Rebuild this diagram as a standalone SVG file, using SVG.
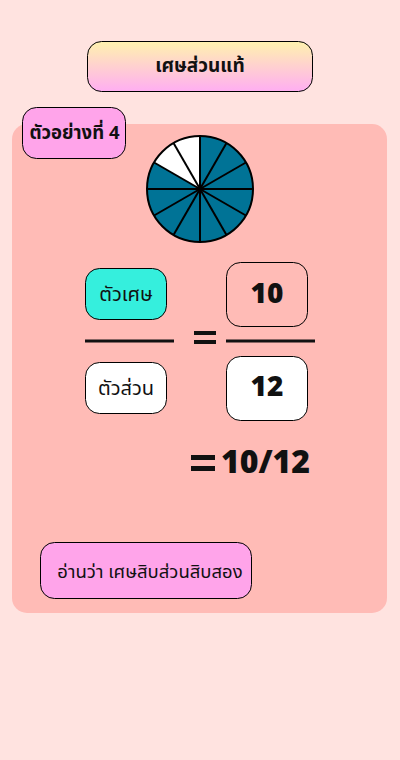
<svg xmlns="http://www.w3.org/2000/svg" width="400" height="760" viewBox="0 0 400 760">
<defs>
<linearGradient id="tg" x1="0" y1="0" x2="0" y2="1">
<stop offset="0" stop-color="#FFF2AE"/>
<stop offset="1" stop-color="#FFAEF2"/>
</linearGradient>
<style>
.box{stroke:#000;stroke-width:1}
.th{font-family:"Noto Sans","Noto Sans Thai","DejaVu Sans",sans-serif;fill:#111;text-anchor:middle}
.num{font-family:"Noto Sans","DejaVu Sans",sans-serif;font-weight:900;fill:#111;text-anchor:middle}
.bar{fill:#111}
.sl{stroke:#000;stroke-width:2}
</style>
</defs>
<rect width="400" height="760" fill="#FFE3E0"/>
<rect id="panel" x="12" y="124" width="375" height="489" rx="15" fill="#FFBBB6"/>
<g id="title">
<rect class="box" x="87.5" y="41.5" width="225" height="50" rx="14" fill="url(#tg)"/>
<text class="th" x="200" y="72" font-size="19" font-weight="bold">เศษส่วนแท้</text>
</g>
<g id="example">
<rect class="box" x="22.5" y="107.5" width="103" height="51" rx="14" fill="#FFA4EA"/>
<text class="th" x="74.5" y="139" font-size="18.5" font-weight="bold">ตัวอย่างที่ 4</text>
</g>
<g id="pie">
<circle cx="200" cy="189" r="53" fill="#007396"/>
<path d="M200 189 L200 136 A53 53 0 0 0 154.1 162.5 Z" fill="#fff"/>
<g class="sl">
<line x1="200" y1="136" x2="200" y2="242"/>
<line x1="147" y1="189" x2="253" y2="189"/>
<line x1="173.5" y1="143.1" x2="226.5" y2="234.9"/>
<line x1="226.5" y1="143.1" x2="173.5" y2="234.9"/>
<line x1="154.1" y1="162.5" x2="245.9" y2="215.5"/>
<line x1="245.9" y1="162.5" x2="154.1" y2="215.5"/>
</g>
<circle cx="200" cy="189" r="53" fill="none" stroke="#000" stroke-width="2"/>
<circle cx="200" cy="189" r="2.5" fill="#000"/>
</g>
<g id="numerator-label">
<rect class="box" x="85.5" y="268.5" width="81" height="51" rx="14" fill="#35EFDD"/>
<text class="th" x="126" y="301" font-size="20">ตัวเศษ</text>
</g>
<g id="denominator-label">
<rect class="box" x="85.5" y="362.5" width="81" height="51" rx="14" fill="#fff"/>
<text class="th" x="126" y="395" font-size="20">ตัวส่วน</text>
</g>
<g id="num10">
<rect class="box" x="226.5" y="262.5" width="81" height="64" rx="14" fill="#FFBBB6"/>
<text class="num" x="267" y="303" font-size="28">10</text>
</g>
<g id="num12">
<rect class="box" x="226.5" y="356.5" width="81" height="64" rx="14" fill="#fff"/>
<text class="num" x="267" y="396" font-size="28">12</text>
</g>
<g id="connectors">
<rect class="bar" x="85" y="339.5" width="89" height="3"/>
<rect class="bar" x="226" y="339.5" width="89" height="3"/>
<rect class="bar" x="194" y="331" width="22" height="4"/>
<rect class="bar" x="194" y="340" width="22" height="4"/>
<rect class="bar" x="191" y="455" width="24" height="5"/>
<rect class="bar" x="191" y="466" width="24" height="5"/>
</g>
<g id="result">
<text class="num" x="265.5" y="473" font-size="32" text-anchor="middle">10/12</text>
</g>
<g id="reading">
<rect class="box" x="40.5" y="542.5" width="211" height="56" rx="14" fill="#FFA4EA"/>
<text class="th" x="150" y="577.5" font-size="18.5">อ่านว่า เศษสิบส่วนสิบสอง</text>
</g>
</svg>
